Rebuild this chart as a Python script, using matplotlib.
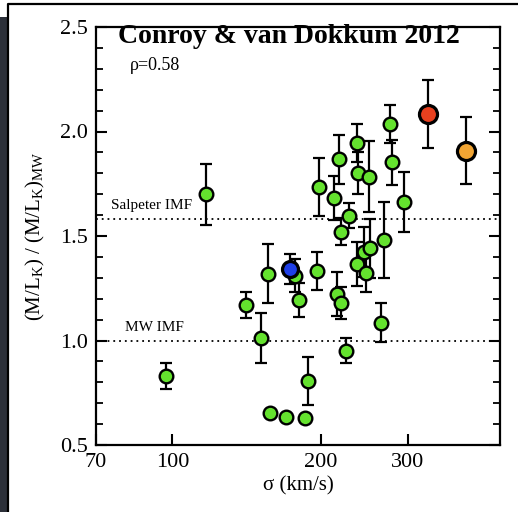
import matplotlib
matplotlib.use('Agg')
import matplotlib.pyplot as plt
from matplotlib.patches import Rectangle
from matplotlib.lines import Line2D
from matplotlib.ticker import MultipleLocator, FixedLocator, NullLocator

# Data
sigma_green = [97, 117, 141, 151.5, 156, 158, 170, 177.5, 181, 186, 188, 196.5, 198,
               213, 215.6, 219.7, 218, 220, 225, 228, 236.6, 236.6, 237.5, 245, 252,
               247, 250.8, 265, 268.6, 277, 279, 295]
ml_green = [0.83, 1.70, 1.17, 1.01, 1.32, 0.655, 0.632, 1.31, 1.194, 0.628, 0.806, 1.334, 1.733,
            1.68, 1.222, 1.178, 1.867, 1.521, 0.951, 1.597, 1.366, 1.946, 1.80, 1.425, 1.441,
            1.321, 1.784, 1.085, 1.481, 2.037, 1.853, 1.663]
err_green = [0.06, 0.145, 0.06, 0.12, 0.14, 0.01, 0.01, 0.08, 0.08, 0.01, 0.117, 0.09, 0.138,
             0.105, 0.105, 0.077, 0.117, 0.065, 0.06, 0.06, 0.106, 0.092, 0.10, 0.12, 0.14,
             0.09, 0.17, 0.094, 0.18, 0.092, 0.108, 0.143]

special_sigma = [173, 330, 395]
special_ml = [1.342, 2.084, 1.908]
special_err = [0.07, 0.163, 0.161]
special_colors = ['#1f3fe6', '#e8401f', '#f2a533']
special_sizes = [11.5, 13, 13]

salpeter_level = 1.58
mw_level = 1.0

plt.rcParams['font.family'] = 'Liberation Serif'
plt.rcParams['mathtext.fontset'] = 'custom'
plt.rcParams['mathtext.rm'] = 'Liberation Serif'
plt.rcParams['mathtext.it'] = 'Liberation Serif:italic'

fig = plt.figure(figsize=(5.18, 5.12), dpi=100)
fig.patch.set_facecolor('white')

# dark slide background strip on the left and the box border
fig.add_artist(Rectangle((0, 0), 7.5 / 518, 1 - 17 / 512, transform=fig.transFigure,
                         facecolor='#2c3039', edgecolor='none'))
fig.add_artist(Line2D([7.5 / 518, 7.5 / 518, 1], [0, 1 - 3.5 / 512, 1 - 3.5 / 512],
                      transform=fig.transFigure, color='black', linewidth=1.6))

ax = fig.add_axes([96 / 518, 1 - 445 / 512, 404 / 518, 418 / 512])
ax.set_xscale('log')
ax.set_xlim(70, 462)
ax.set_ylim(0.5, 2.5)

ax.axhline(salpeter_level, color='black', linestyle=(0, (1, 2.2)), linewidth=1.3, zorder=1)
ax.axhline(mw_level, color='black', linestyle=(0, (1, 2.2)), linewidth=1.3, zorder=1)

ax.errorbar(sigma_green, ml_green, yerr=err_green, fmt='none', ecolor='black',
            elinewidth=1.6, capsize=4.3, capthick=1.6, zorder=2)
ax.errorbar(special_sigma, special_ml, yerr=special_err, fmt='none', ecolor='black',
            elinewidth=1.6, capsize=4.3, capthick=1.6, zorder=2)
ax.plot(sigma_green, ml_green, 'o', markersize=9.8, markerfacecolor='#64e22e',
        markeredgecolor='black', markeredgewidth=1.7, linestyle='none', zorder=3)
for s, m, c, ms in zip(special_sigma, special_ml, special_colors, special_sizes):
    ax.plot([s], [m], 'o', markersize=ms, markerfacecolor=c,
            markeredgecolor='black', markeredgewidth=2.3, zorder=4)

ax.text(75, 1.63, 'Salpeter IMF', fontsize=11, ha='left', va='baseline')
ax.text(80, 1.045, 'MW IMF', fontsize=11, ha='left', va='baseline')
ax.text(0.478, 0.962, 'Conroy & van Dokkum 2012', transform=ax.transAxes,
        fontsize=20, fontweight='bold', ha='center', va='baseline', zorder=5)
ax.text(0.084, 0.897, 'ρ=0.58', transform=ax.transAxes,
        fontsize=13, ha='left', va='baseline')

ax.xaxis.set_major_locator(FixedLocator([70, 100, 200, 300]))
ax.xaxis.set_minor_locator(NullLocator())
ax.set_xticklabels(['70', '100', '200', '300'])
ax.set_yticks([0.5, 1.0, 1.5, 2.0, 2.5])
ax.set_yticklabels(['0.5', '1.0', '1.5', '2.0', '2.5'])
ax.yaxis.set_minor_locator(MultipleLocator(0.1))

ax.tick_params(axis='both', which='major', direction='in', length=8, width=1.5,
               labelsize=16, pad=6)
ax.tick_params(axis='y', which='minor', direction='in', length=5, width=1.3)
ax.tick_params(axis='y', which='both', right=True)
ax.tick_params(axis='x', which='both', top=False)
for sp in ax.spines.values():
    sp.set_linewidth(1.6)

ax.set_xlabel('σ (km/s)', fontsize=15, labelpad=3)
ax.set_ylabel(r'(M/L$_\mathrm{K}$) / (M/L$_\mathrm{K}$)$_\mathrm{MW}$', fontsize=15, labelpad=9)

fig.savefig('out.png', dpi=100)
